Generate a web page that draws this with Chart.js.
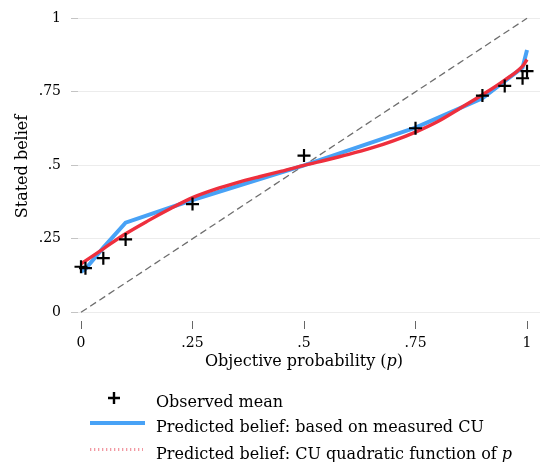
<!DOCTYPE html>
<html>
<head>
<meta charset="utf-8">
<script src="https://cdn.jsdelivr.net/npm/chart.js@4.4.1/dist/chart.umd.min.js"></script>
<style>
  html, body { margin: 0; padding: 0; background: #ffffff; }
  #wrap { width: 542px; height: 462px; }
</style>
</head>
<body>
<div id="wrap"><canvas id="beliefChart" width="542" height="462"></canvas></div>
<script>
// Objective probabilities used in the experiment and the mean stated belief at each
const obsP    = [0, 0.01, 0.05, 0.10, 0.25, 0.50, 0.75, 0.90, 0.95, 0.99, 1.00];
const obsMean = [0.155, 0.150, 0.184, 0.248, 0.368, 0.533, 0.626, 0.737, 0.770, 0.796, 0.820];

// Predicted belief from measured cognitive uncertainty (same probabilities)
const cuMeasured = [0.138, 0.147, 0.220, 0.305, 0.382, 0.500, 0.628, 0.728, 0.786, 0.832, 0.892];

// Predicted belief when CU is a quadratic function of p
const quadP    = [0, 0.05, 0.10, 0.15, 0.20, 0.25, 0.30, 0.35, 0.40, 0.45, 0.50,
                  0.55, 0.60, 0.65, 0.70, 0.75, 0.80, 0.85, 0.90, 0.95, 0.99, 1.00];
const cuQuad   = [0.165, 0.216, 0.267, 0.311, 0.352, 0.390, 0.418, 0.441, 0.461, 0.480, 0.500,
                  0.518, 0.537, 0.558, 0.583, 0.613, 0.649, 0.694, 0.740, 0.790, 0.837, 0.860];

// 45-degree reference line
const diagP = [0, 1];

// Axis ticks
const tickValues = [0, 0.25, 0.5, 0.75, 1];
const tickLabels = ['0', '.25', '.5', '.75', '1'];

const seriesLabels = ['Observed mean',
                      'Predicted belief: based on measured CU',
                      'Predicted belief: CU quadratic function of p'];

const FONT = 'DejaVu Serif';
const pts = (xs, ys) => xs.map((x, i) => ({ x, y: ys[i] }));
const labelFor = v => { const i = tickValues.indexOf(v); return i >= 0 ? tickLabels[i] : ''; };
const fixedTicks = scale => { scale.ticks = tickValues.map(v => ({ value: v })); };
const noEdgePadding = s => { s.paddingLeft = 0; s.paddingRight = 0; s.paddingTop = 0; s.paddingBottom = 0; };

// Draw a run of text pieces, some italic, starting at x
function drawRich(ctx, parts, x, y, size, align) {
  const widths = parts.map(p => { ctx.font = (p.it ? 'italic ' : '') + size + 'px "' + FONT + '"'; return ctx.measureText(p.t).width; });
  const total = widths.reduce((a, b) => a + b, 0);
  let cx = align === 'center' ? x - total / 2 : x;
  ctx.textAlign = 'left';
  parts.forEach((p, i) => {
    ctx.font = (p.it ? 'italic ' : '') + size + 'px "' + FONT + '"';
    ctx.fillText(p.t, cx, y);
    cx += widths[i];
  });
}

// Split a trailing " p" into an italic variable
const richLabel = s => s.endsWith(' p') ? [{ t: s.slice(0, -1) }, { t: 'p', it: true }] : [{ t: s }];

const annotations = {
  id: 'beliefAnnotations',
  afterDraw(chart) {
    const ctx = chart.ctx;
    const xs = chart.scales.x;
    ctx.save();
    ctx.fillStyle = '#000';
    ctx.textBaseline = 'alphabetic';

    // x-axis title with italic p
    drawRich(ctx, [{ t: 'Objective probability (' }, { t: 'p', it: true }, { t: ')' }],
             xs.getPixelForValue(0.5), 366, 16, 'center');

    // legend
    const textX = 156;
    const ds = chart.data.datasets;

    // marker entry
    const mx = 114, my = 398, mr = 6;
    ctx.strokeStyle = ds[0].borderColor;
    ctx.lineWidth = 2.4;
    ctx.beginPath();
    ctx.moveTo(mx - mr, my); ctx.lineTo(mx + mr, my);
    ctx.moveTo(mx, my - mr); ctx.lineTo(mx, my + mr);
    ctx.stroke();
    drawRich(ctx, richLabel(ds[0].label), textX, 406.5, 16);

    // measured CU line entry
    ctx.strokeStyle = ds[2].borderColor;
    ctx.lineWidth = 4;
    ctx.beginPath(); ctx.moveTo(90, 423); ctx.lineTo(145, 423); ctx.stroke();
    drawRich(ctx, richLabel(ds[2].label), textX, 432, 16);

    // quadratic CU line entry (dotted)
    ctx.strokeStyle = 'rgba(232, 70, 85, 0.55)';
    ctx.lineWidth = 3;
    ctx.setLineDash([1.3, 2.7]);
    ctx.beginPath(); ctx.moveTo(90, 449.5); ctx.lineTo(143, 449.5); ctx.stroke();
    ctx.setLineDash([]);
    drawRich(ctx, richLabel(ds[1].label), textX, 458.5, 16);

    ctx.restore();
  }
};

new Chart(document.getElementById('beliefChart'), {
  type: 'scatter',
  data: {
    datasets: [
      {
        label: seriesLabels[0],
        data: pts(obsP, obsMean),
        pointStyle: 'cross',
        pointRadius: 6.5,
        pointHoverRadius: 6.5,
        borderColor: '#000000',
        backgroundColor: '#000000',
        borderWidth: 2.2,
        showLine: false,
        clip: false
      },
      {
        label: seriesLabels[2],
        data: pts(quadP, cuQuad),
        showLine: true,
        borderColor: '#ee2f3d',
        borderWidth: 3.4,
        pointRadius: 0,
        cubicInterpolationMode: 'monotone',
        clip: false
      },
      {
        label: seriesLabels[1],
        data: pts(obsP, cuMeasured),
        showLine: true,
        borderColor: '#48a2f6',
        borderWidth: 4,
        pointRadius: 0,
        tension: 0,
        clip: false
      },
      {
        label: '45-degree line',
        data: pts(diagP, diagP),
        showLine: true,
        borderColor: '#6e6e6e',
        borderWidth: 1.3,
        borderDash: [7, 4],
        pointRadius: 0
      }
    ]
  },
  options: {
    responsive: false,
    animation: false,
    events: [],
    layout: { autoPadding: false, padding: { top: 12, right: 2, left: 0, bottom: 0 } },
    plugins: {
      legend: { display: false },
      tooltip: { enabled: false }
    },
    scales: {
      x: {
        type: 'linear',
        min: -0.00673,
        max: 1.0291,
        afterBuildTicks: fixedTicks,
        afterFit: s => { s.height = 141; noEdgePadding(s); },
        border: { display: false },
        grid: { drawOnChartArea: false, drawTicks: true, tickLength: 8, tickColor: '#666666', tickWidth: 1 },
        ticks: {
          callback: labelFor,
          color: '#000',
          padding: 6,
          maxRotation: 0,
          autoSkip: false,
          font: { family: FONT, size: 14 }
        }
      },
      y: {
        type: 'linear',
        min: -0.0296,
        max: 1.0214,
        afterBuildTicks: fixedTicks,
        afterFit: s => { s.width = 78; noEdgePadding(s); },
        border: { display: false },
        grid: { color: '#ececec', lineWidth: 1, drawTicks: true, tickLength: 7, tickColor: '#c4c4c4' },
        ticks: {
          callback: labelFor,
          color: '#000',
          padding: 10,
          autoSkip: false,
          font: { family: FONT, size: 14 }
        },
        title: {
          display: true,
          text: 'Stated belief',
          color: '#000',
          padding: { top: 13, bottom: 0 },
          font: { family: FONT, size: 16 }
        }
      }
    }
  },
  plugins: [annotations]
});
</script>
</body>
</html>
